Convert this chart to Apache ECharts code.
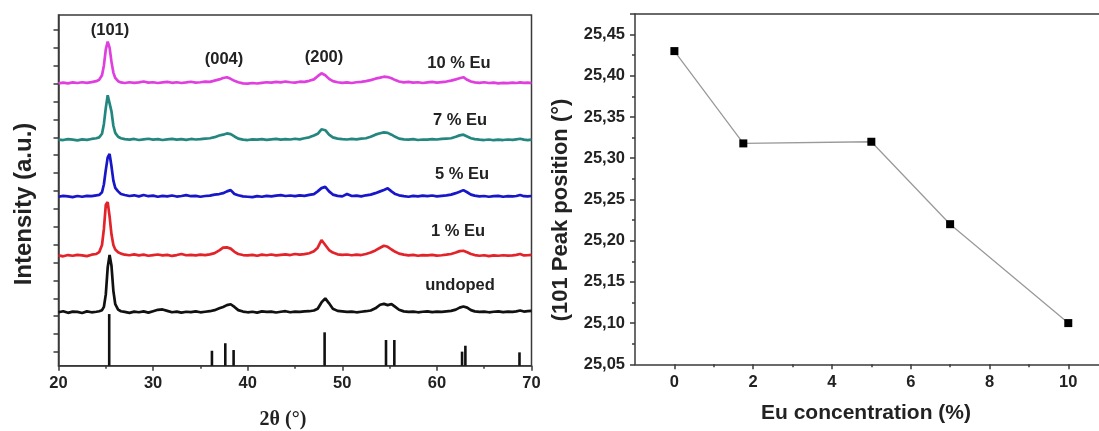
<!DOCTYPE html>
<html><head><meta charset="utf-8">
<script src="https://cdn.jsdelivr.net/npm/echarts@6/dist/echarts.min.js"></script>
<style>html,body{margin:0;padding:0;background:#fff}#c{width:1099px;height:431px}</style>
</head><body><div id="c"></div>
<script>
// ---------- Left panel: XRD patterns (intensity in a.u., relative to each baseline) ----------
const twoTheta = [
  20,20.5,21,21.5,22,22.5,23,23.5,24,
  24.3,24.6,24.8,25.0,25.2,25.4,25.6,25.8,26.0,26.3,26.6,
  27,27.5,28,28.5,29,29.5,30,30.5,31,31.5,32,32.5,33,33.5,34,34.5,35,35.5,36,36.5,
  37,37.4,37.8,38.2,38.6,
  39,39.5,40,40.5,41,41.5,42,42.5,43,43.5,44,44.5,45,45.5,46,46.5,
  47,47.4,47.8,48.2,48.6,
  49,49.5,50,50.5,51,51.5,52,52.5,53,53.5,
  54,54.4,54.8,55.2,55.6,
  56,56.5,57,57.5,58,58.5,59,59.5,60,60.5,61,61.5,
  62,62.4,62.8,63.2,63.6,
  64,64.5,65,65.5,66,66.5,67,67.5,
  68,68.4,68.8,69.2,69.6,70
];
const undoped = [
  0.00,0.06,-0.03,0.04,0.02,-0.04,0.05,0.00,0.03,
  0.06,0.12,0.3,1.0,2.5,3.2,2.6,1.2,0.45,0.15,0.06,
  0.02,-0.03,0.04,0.0,0.05,-0.02,0.06,0.14,0.16,0.08,0.0,0.04,-0.02,0.03,0.01,0.05,0.0,0.03,0.06,0.12,
  0.22,0.3,0.4,0.45,0.3,
  0.12,0.04,0.0,0.03,-0.02,0.05,0.02,0.04,-0.01,0.03,0.06,0.0,0.04,0.02,0.05,0.06,
  0.1,0.2,0.55,0.78,0.5,
  0.2,0.08,0.05,0.02,0.04,0.0,0.03,0.06,0.1,0.22,
  0.42,0.47,0.4,0.46,0.3,
  0.14,0.05,0.02,0.04,0.0,0.03,0.05,0.01,0.04,0.02,0.05,0.08,
  0.15,0.26,0.32,0.26,0.12,
  0.05,0.02,0.04,0.0,0.03,0.05,0.01,0.04,
  0.02,0.05,0.1,0.04,0.06,0.08
];
const eu1 = [
  0.02,-0.03,0.04,0.0,0.05,0.02,-0.02,0.06,0.1,
  0.2,0.6,1.5,2.85,3.0,2.2,1.2,0.6,0.35,0.2,0.12,
  0.06,0.03,0.08,0.02,0.06,0.0,0.04,0.07,0.02,0.05,-0.01,0.04,0.1,0.03,0.05,0.02,0.06,0.04,0.08,0.15,
  0.3,0.45,0.47,0.4,0.22,
  0.1,0.04,0.02,0.05,0.0,0.06,0.03,0.07,0.02,0.05,0.08,0.04,0.1,0.06,0.09,0.14,
  0.25,0.45,0.88,0.6,0.32,
  0.18,0.08,0.05,0.07,0.03,0.06,0.04,0.1,0.18,0.3,
  0.45,0.56,0.5,0.35,0.22,
  0.12,0.06,0.02,0.05,0.0,0.04,0.02,0.05,0.01,0.03,0.06,0.1,
  0.18,0.26,0.28,0.2,0.1,
  0.04,0.0,0.03,-0.02,0.02,0.0,0.03,0.01,
  0.02,0.05,0.1,0.02,0.03,0.05
];
const eu5 = [
  0.0,0.05,0.02,-0.02,0.04,0.0,0.05,0.03,0.08,
  0.1,0.25,0.7,1.5,2.2,2.39,1.7,0.9,0.5,0.3,0.15,
  0.1,0.04,0.08,0.02,0.1,0.03,0.06,0.0,0.05,0.02,0.07,0.01,0.04,0.09,0.03,0.05,0.0,0.04,0.06,0.12,
  0.15,0.2,0.3,0.37,0.15,
  0.08,0.02,0.0,-0.02,0.03,0.0,0.05,0.02,0.06,0.09,0.04,0.07,0.03,0.08,0.05,0.1,
  0.15,0.3,0.48,0.55,0.3,
  0.12,0.05,0.02,0.15,0.04,0.06,0.02,0.08,0.12,0.2,
  0.3,0.38,0.47,0.3,0.15,
  0.08,0.03,0.0,0.05,0.02,0.06,0.03,0.07,0.02,0.05,0.08,0.12,
  0.2,0.28,0.37,0.25,0.12,
  0.06,0.02,0.04,0.0,0.03,0.05,0.0,0.03,
  0.02,0.04,0.1,0.03,0.02,0.04
];
const eu7 = [
  0.02,0.0,0.05,0.02,-0.02,0.04,0.01,0.06,0.1,
  0.15,0.35,0.9,1.8,2.5,2.4,1.6,0.8,0.4,0.18,0.1,
  0.05,0.02,0.06,0.0,0.04,0.07,0.02,0.05,0.0,0.04,0.06,0.02,0.05,0.01,0.06,0.03,0.05,0.08,0.1,0.16,
  0.25,0.3,0.37,0.33,0.2,
  0.08,0.02,0.0,0.04,0.02,0.05,0.01,0.04,0.06,0.02,0.05,0.03,0.07,0.04,0.1,0.15,
  0.25,0.35,0.6,0.55,0.3,
  0.15,0.08,0.05,0.03,0.06,0.04,0.08,0.1,0.18,0.3,
  0.38,0.43,0.4,0.3,0.18,
  0.08,0.04,0.02,0.05,0.0,0.03,0.02,0.05,0.03,0.06,0.08,0.1,
  0.18,0.26,0.3,0.2,0.1,
  0.05,0.02,0.0,0.03,-0.01,0.02,0.0,0.03,
  0.01,0.04,0.07,0.02,0.0,0.02
];
const eu10 = [
  0.0,0.04,0.0,0.05,0.02,0.06,0.03,0.07,0.12,
  0.2,0.45,1.0,1.9,2.33,2.0,1.2,0.6,0.3,0.12,0.05,
  0.02,0.06,0.03,0.05,0.1,0.04,0.06,0.02,0.05,0.08,0.03,0.06,0.02,0.05,0.09,0.04,0.06,0.1,0.08,0.15,
  0.22,0.3,0.34,0.25,0.14,
  0.06,0.0,-0.02,0.02,-0.01,0.03,0.06,0.04,0.08,0.05,0.1,0.06,0.04,0.09,0.08,0.14,
  0.22,0.4,0.56,0.45,0.25,
  0.12,0.06,0.03,0.05,0.02,0.06,0.08,0.12,0.18,0.26,
  0.32,0.37,0.35,0.28,0.18,
  0.1,0.05,0.08,0.04,0.06,0.02,0.05,0.08,0.04,0.07,0.1,0.15,
  0.22,0.28,0.34,0.2,0.1,
  0.05,0.03,0.06,0.02,0.04,0.0,0.03,0.01,
  0.04,0.02,0.05,0.03,0.04,0.02
];
const sampleNames = ['undoped', '1 % Eu', '5 % Eu', '7 % Eu', '10 % Eu'];
const sampleBaselines = [2.22, 5.38, 8.68, 11.85, 15.02];
const sampleColors = ['#111111', '#e3232a', '#1717c9', '#24877f', '#e03fe0'];
const samples = [undoped, eu1, eu5, eu7, eu10];

// reference (anatase) stick pattern
const refPos = [25.36, 36.22, 37.63, 38.51, 48.13, 54.62, 55.5, 62.66, 63.01, 68.73];
const refTop = [2.12, 0.07, 0.49, 0.11, 1.10, 0.67, 0.67, 0.02, 0.35, -0.02];

const leftYMin = -0.766, leftYMax = 18.84;
const leftYTicks = [0,1,2,3,4,5,6,7,8,9,10,11,12,13,14,15,16,17,18];

// ---------- Right panel: (101) peak position vs Eu concentration ----------
const euConc = [0, 1.75, 5, 7, 10];
const peakPos = [25.43, 25.318, 25.32, 25.22, 25.10];
const rightXLabels = [0, 2, 4, 6, 8, 10];
const rightXMinor = [1, 3, 5, 7, 9];

const FONT = '"Liberation Sans", Arial, sans-serif';
const TXT = '#222';
const AX = '#3a3a3a';

const chart = echarts.init(document.getElementById('c'), null, {renderer: 'canvas'});

const series = [];
samples.forEach((arr, i) => {
  series.push({
    type: 'line', name: sampleNames[i], xAxisIndex: 0, yAxisIndex: 0,
    data: twoTheta.map((x, k) => [x, arr[k] + sampleBaselines[i]]),
    showSymbol: false, symbol: 'none',
    lineStyle: {color: sampleColors[i], width: 2.7}, z: 3
  });
});
series.push({
  type: 'custom', xAxisIndex: 0, yAxisIndex: 0,
  data: refPos.map((p, i) => [p, refTop[i]]),
  renderItem: (params, api) => {
    const top = api.coord([api.value(0), api.value(1)]);
    const bot = api.coord([api.value(0), leftYMin]);
    return {type: 'rect', shape: {x: top[0] - 1.3, y: top[1], width: 2.6, height: bot[1] - top[1]},
      style: {fill: '#111'}};
  }, z: 4
});
series.push({
  type: 'line', xAxisIndex: 1, yAxisIndex: 1,
  data: euConc.map((x, i) => [x, peakPos[i]]),
  symbol: 'rect', symbolSize: 8, showSymbol: true,
  itemStyle: {color: '#000'},
  lineStyle: {color: '#9a9a9a', width: 1.3}
});

const annotations = [
  {text: '(101)', x: 110, y: 30},
  {text: '(004)', x: 224, y: 59},
  {text: '(200)', x: 324, y: 57},
  {text: '10 % Eu', x: 459, y: 63},
  {text: '7 % Eu', x: 460, y: 120},
  {text: '5 % Eu', x: 462, y: 174},
  {text: '1 % Eu', x: 458, y: 231},
  {text: 'undoped', x: 460, y: 285}
];
const graphic = annotations.map(a => ({
  type: 'text', x: a.x, y: a.y, z: 10,
  style: {text: a.text, font: 'bold 16.5px ' + FONT, fill: TXT, align: 'center', verticalAlign: 'middle'}
}));
graphic.push({
  type: 'text', x: 24, y: 204, rotation: Math.PI / 2, z: 10,
  style: {text: 'Intensity (a.u.)', font: 'bold 24px ' + FONT, fill: TXT, align: 'center', verticalAlign: 'middle'}
});
graphic.push({
  type: 'text', x: 283, y: 420, z: 10,
  style: {text: '2θ (°)', font: 'bold 20px "Liberation Serif", "Times New Roman", serif', fill: TXT, align: 'center', verticalAlign: 'middle'}
});
graphic.push({
  type: 'text', x: 561, y: 210, rotation: Math.PI / 2, z: 10,
  style: {text: '(101 Peak position (°)', font: 'bold 22px ' + FONT, fill: TXT, align: 'center', verticalAlign: 'middle'}
});
graphic.push({
  type: 'text', x: 866, y: 413, z: 10,
  style: {text: 'Eu concentration (%)', font: 'bold 21px ' + FONT, fill: TXT, align: 'center', verticalAlign: 'middle'}
});

const tickLabel = {fontFamily: FONT, fontWeight: 'bold', fontSize: 16.5, color: TXT};
const axLine = {show: true, onZero: false, lineStyle: {color: AX, width: 1.5}};
const tickStyle = {color: AX, width: 1.5};

chart.setOption({
  animation: false,
  backgroundColor: '#fff',
  grid: [
    {left: 58.5, top: 15, width: 473, height: 350.7, show: true, borderColor: AX, borderWidth: 1.5, containLabel: false},
    {left: 635, top: 14, right: 0, height: 350.3, show: false, containLabel: false}
  ],
  xAxis: [
    {type: 'value', gridIndex: 0, min: 20, max: 70, interval: 10,
      axisLine: axLine,
      axisTick: {show: true, inside: false, length: 5, lineStyle: tickStyle},
      minorTick: {show: true, splitNumber: 2, length: 3, lineStyle: tickStyle},
      axisLabel: Object.assign({margin: 9}, tickLabel),
      splitLine: {show: false}},
    {type: 'value', gridIndex: 1, min: -1, max: 10.78,
      axisLine: axLine,
      axisTick: {show: true, length: 5, customValues: rightXLabels, lineStyle: tickStyle},
      axisLabel: Object.assign({margin: 10, customValues: rightXLabels}, tickLabel),
      splitLine: {show: false}},
    {type: 'value', gridIndex: 1, min: -1, max: 10.78, position: 'bottom',
      axisLine: {show: false},
      axisTick: {show: true, length: 3, customValues: rightXMinor, lineStyle: tickStyle},
      axisLabel: {show: false}, splitLine: {show: false}},
    {type: 'value', gridIndex: 1, min: -1, max: 10.78, position: 'top',
      axisLine: axLine, axisTick: {show: false},
      axisLabel: {show: false}, splitLine: {show: false}}
  ],
  yAxis: [
    {type: 'value', gridIndex: 0, min: leftYMin, max: leftYMax,
      axisLine: axLine,
      axisTick: {show: true, length: 5, customValues: leftYTicks, lineStyle: tickStyle},
      axisLabel: {show: false}, splitLine: {show: false}},
    {type: 'value', gridIndex: 1, min: 25.05, max: 25.475, interval: 0.05,
      axisLine: axLine,
      axisTick: {show: true, length: 5, lineStyle: tickStyle},
      minorTick: {show: true, splitNumber: 2, length: 3, lineStyle: tickStyle},
      axisLabel: Object.assign({margin: 10, showMaxLabel: false,
        formatter: v => v.toFixed(2).replace('.', ',')}, tickLabel),
      splitLine: {show: false}}
  ],
  series: series,
  graphic: graphic
});
</script></body></html>
